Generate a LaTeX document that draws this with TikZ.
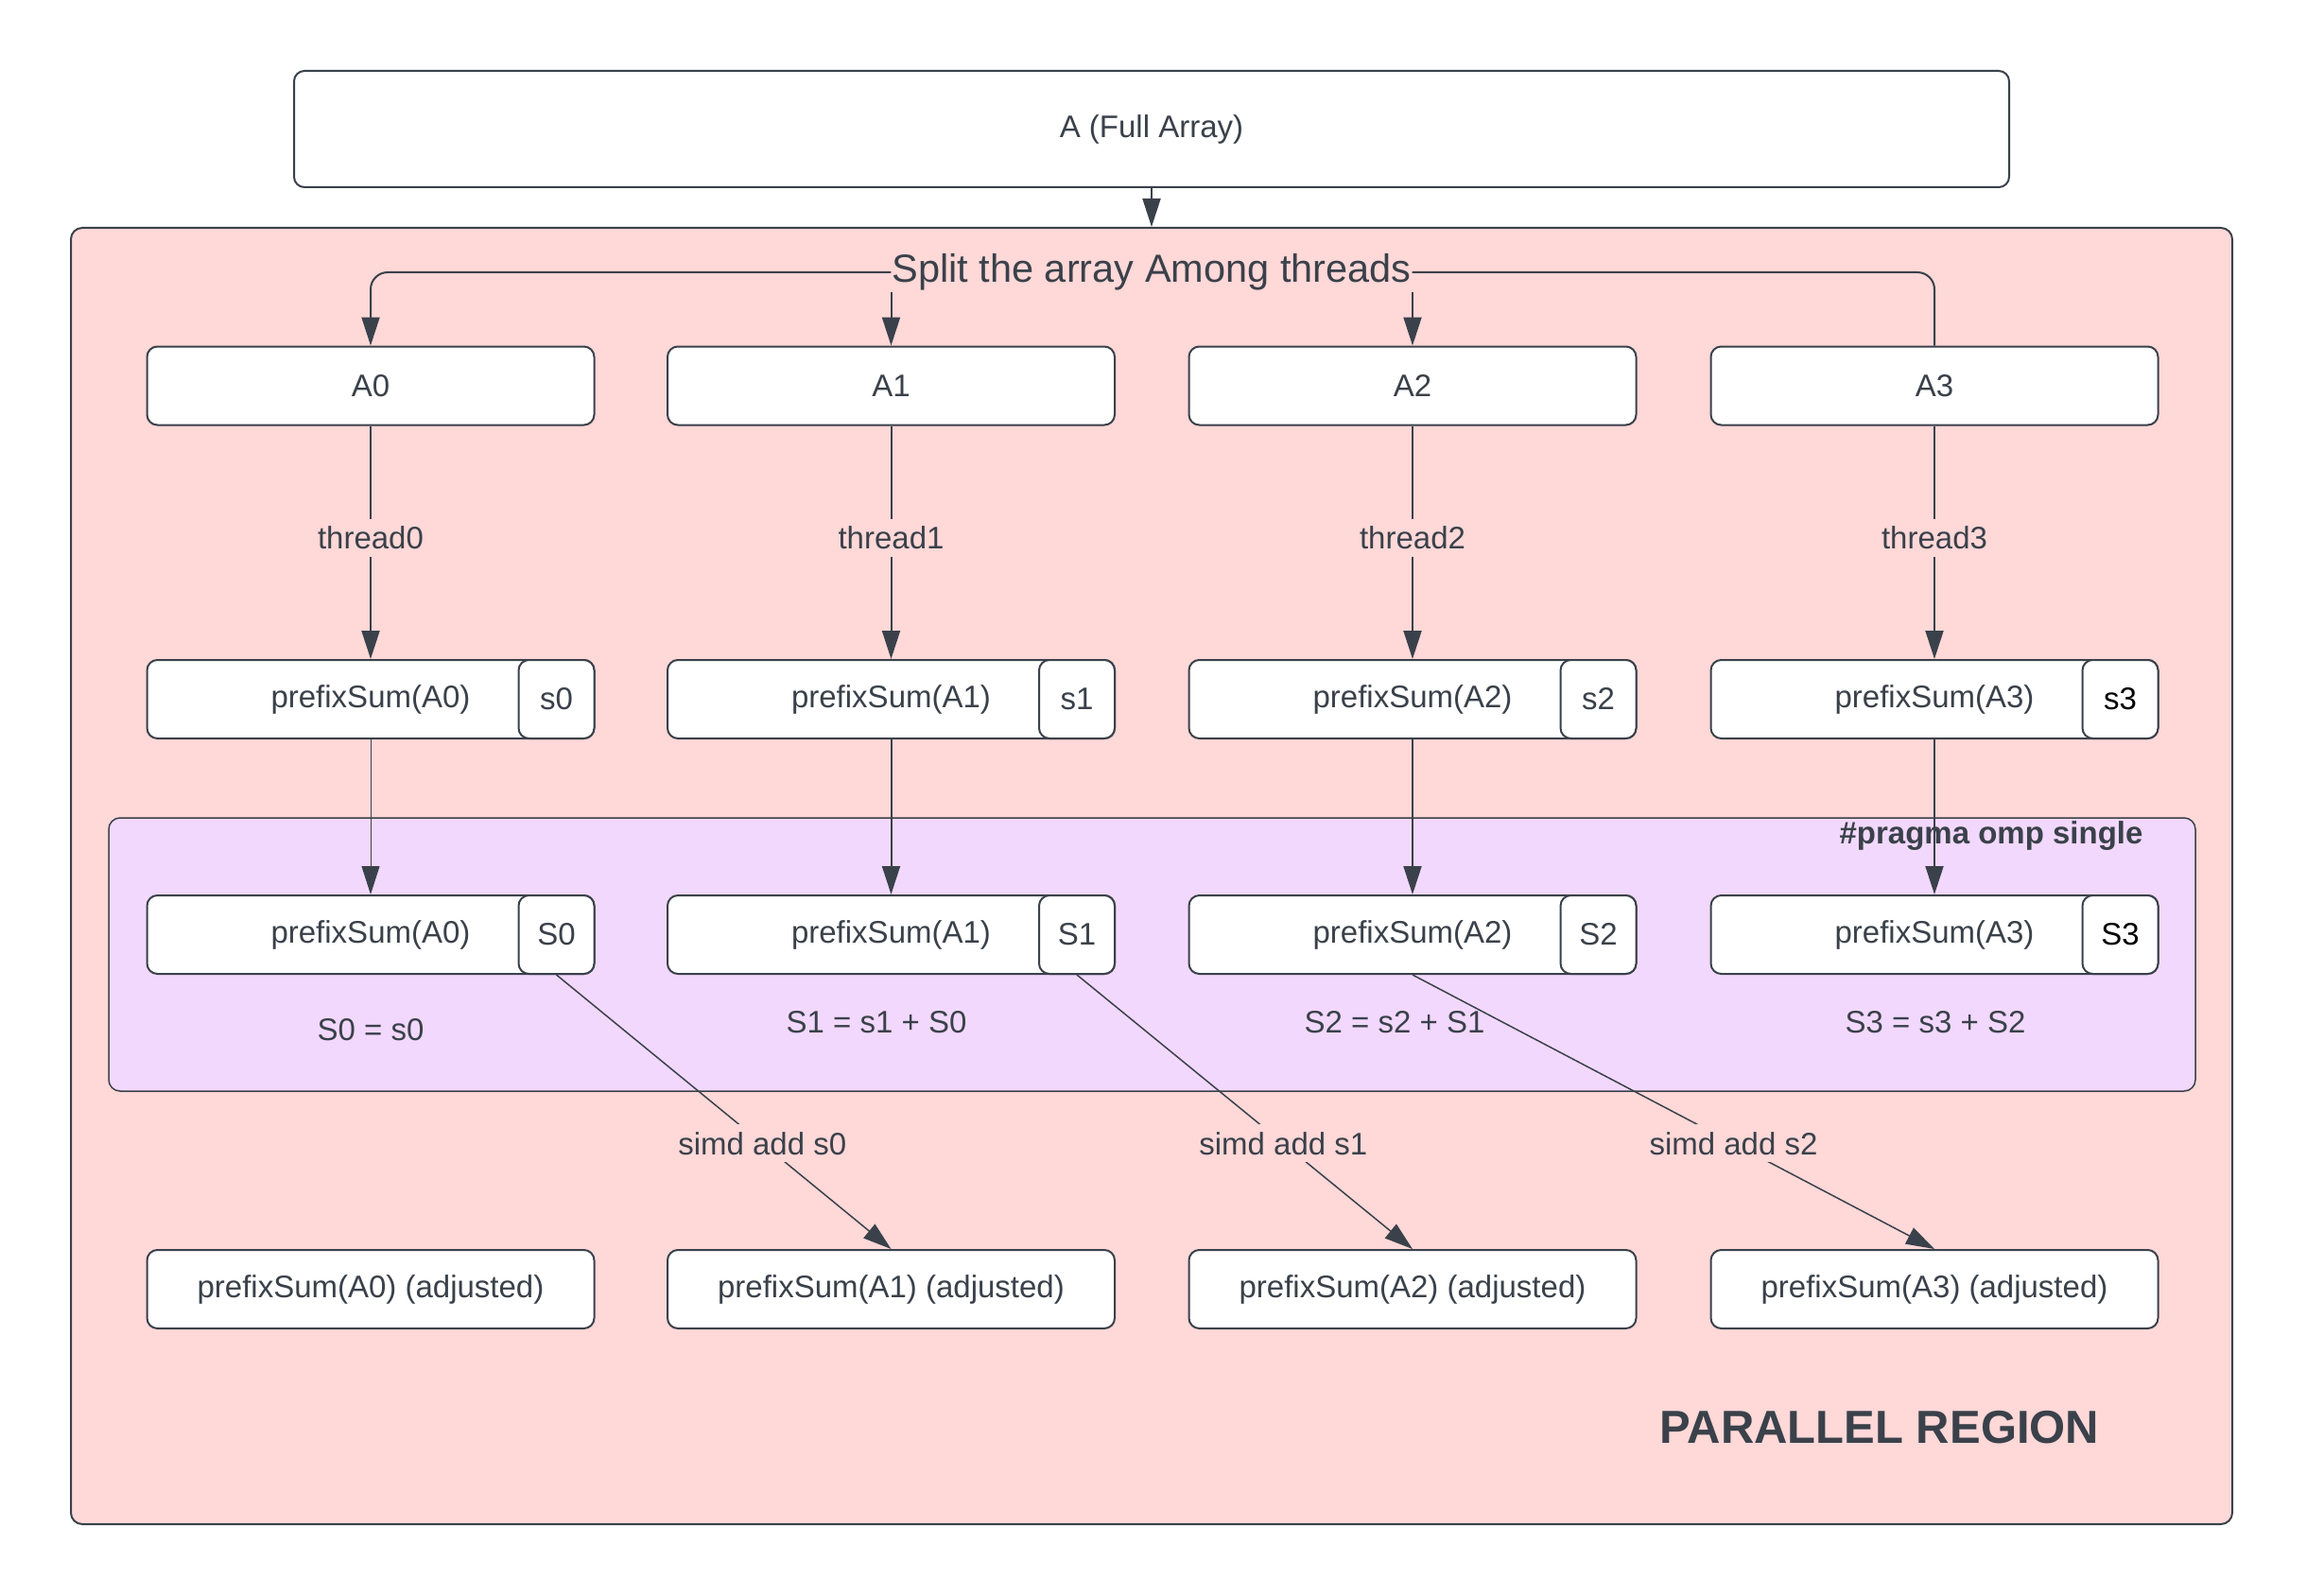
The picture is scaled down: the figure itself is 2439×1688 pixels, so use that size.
\documentclass[tikz,border=0pt]{standalone}
\usepackage{fontspec}
\setmainfont{Liberation Sans}
\usetikzlibrary{arrows.meta}
\definecolor{ink}{RGB}{58,65,74}
\definecolor{pinkbg}{RGB}{255,216,216}
\definecolor{purplebg}{RGB}{242,216,253}
\begin{document}
\begin{tikzpicture}[x=1pt,y=-1pt,
  every node/.style={text=ink, font=\fontsize{33}{40}\selectfont},
  box/.style={draw=ink, line width=2pt, fill=white, rounded corners=11pt, minimum width=473pt, minimum height=83pt, inner sep=0pt},
  tagbox/.style={draw=ink, line width=2pt, fill=white, rounded corners=11pt, minimum width=80pt, minimum height=83pt, inner sep=0pt},
  region/.style={draw=ink, rounded corners=12pt, inner sep=0pt},
  arr/.style={draw=ink, line width=2pt, -{Triangle[length=30pt,width=19pt]}},
  lab/.style={fill=pinkbg, inner sep=8pt},
]
\useasboundingbox (0,0) rectangle (2439,1688);

% regions
\node[region, fill=pinkbg, line width=2pt, minimum width=2286pt, minimum height=1371pt] (par) at (1218,926.5) {};
\node[region, fill=purplebg, line width=1.5pt, minimum width=2207pt, minimum height=289pt] (single) at (1218.5,1009.5) {};

% top box
\node[box, minimum width=1814pt, minimum height=123pt] (full) at (1218,136.5) {A (Full Array)};

% split text
\node[font=\fontsize{41.5}{48}\selectfont, inner sep=1pt] (split) at (1218,288) {Split the array Among threads};

% columns
\foreach \i/\x/\c in {0/392/ink,1/942.5/ink,2/1494/ink,3/2046/black}{
  \node[box] (A\i) at (\x,408) {A\i};
  \node[box] (P\i) at (\x,739.5) {prefixSum(A\i)};
  \node[tagbox, text=\c] (ptag\i) at (\x+196.5,739.5) {s\i};
  \node[box] (Q\i) at (\x,988.5) {prefixSum(A\i)};
  \node[tagbox, text=\c] (qtag\i) at (\x+196.5,988.5) {S\i};
  \node[box] (R\i) at (\x,1363.5) {prefixSum(A\i) (adjusted)};
  \draw[arr] (A\i.south) -- node[lab, pos=0.48] {thread\i} (P\i.north);
}

% split connectors
\draw[arr, rounded corners=18pt] (split.west) -| (A0.north);
\draw[draw=ink, line width=2pt, rounded corners=18pt] (split.east) -| (A3.north);
\draw[arr] (split.south -| A1.north) -- (A1.north);
\draw[arr] (split.south -| A2.north) -- (A2.north);

% top arrow
\draw[arr] (full.south) -- (par.north);

% P -> Q
\draw[arr, line width=1pt] (P0.south) -- (Q0.north);
\draw[arr] (P1.south) -- (Q1.north);
\draw[arr] (P2.south) -- (Q2.north);
\draw[arr] (P3.south) -- (Q3.north);

% equations
\node (e0) at (392,1089) {S0 = s0};
\node (e1) at (927,1081) {S1 = s1 + S0};
\node (e2) at (1475,1081) {S2 = s2 + S1};
\node (e3) at (2047,1081) {S3 = s3 + S2};

% simd connectors
\draw[arr, line width=1.5pt] (qtag0.south) -- node[lab, pos=0.615] {simd add s0} (R1.north);
\draw[arr, line width=1.5pt] (qtag1.south) -- node[lab, pos=0.615] {simd add s1} (R2.north);
\draw[arr, line width=1.5pt] (Q2.south) -- node[lab, pos=0.615] {simd add s2} (R3.north);

% titles
\node[font=\bfseries\fontsize{33}{40}\selectfont] (pragma) at (2106,884) {\#pragma omp single};
\node[font=\bfseries\fontsize{49}{58}\selectfont] (ptitle) at (1988,1510) {PARALLEL REGION};
\end{tikzpicture}
\end{document}
